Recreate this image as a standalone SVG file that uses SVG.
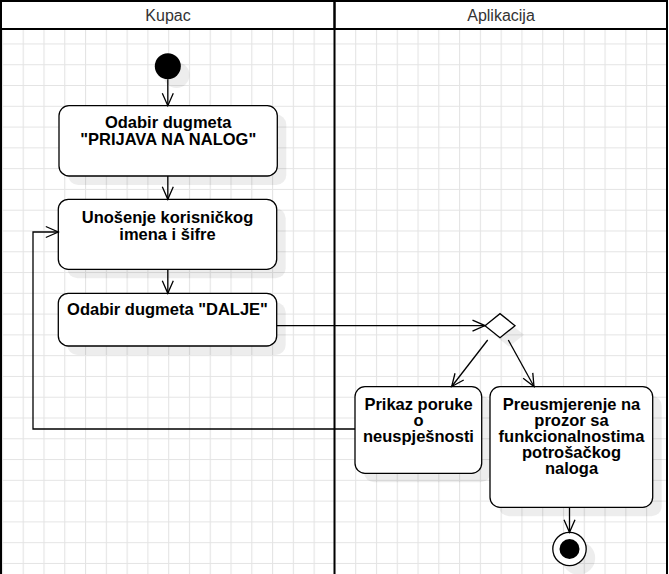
<svg xmlns="http://www.w3.org/2000/svg" width="669" height="574" viewBox="0 0 669 574">
  <defs>
    <pattern id="grid" patternUnits="userSpaceOnUse" x="1.9" y="1.9" width="20.78" height="20.78">
      <path d="M0,0.5 H20.78 M0.5,0 V20.78" fill="none" stroke="#e4e4e4" stroke-width="1.2"/>
    </pattern>
    <marker id="arrow" markerUnits="userSpaceOnUse" viewBox="0 0 13 12" refX="12.5" refY="6" markerWidth="13" markerHeight="12" orient="auto" overflow="visible">
      <path d="M0,0.5 L12.5,6 L0,11.5" fill="none" stroke="#000" stroke-width="1.3"/>
    </marker>
    <style>
      .lane { fill: none; stroke: #000; stroke-width: 2; }
      .node { fill: #fff; stroke: #000; stroke-width: 1.3; }
      .shadow { fill: #000; fill-opacity: 0.07; stroke: none; }
      .edge { fill: none; stroke: #000; stroke-width: 1.3; marker-end: url(#arrow); }
      .lbl { font-family: "Liberation Sans", Arial, sans-serif; font-size: 16.5px; font-weight: bold; fill: #000; text-anchor: middle; }
      .hdr { font-family: "Liberation Sans", Arial, sans-serif; font-size: 16px; fill: #333; text-anchor: middle; }
    </style>
  </defs>

  <rect x="0" y="0" width="669" height="574" fill="#fff"/>
  <rect x="1" y="29" width="666" height="545" fill="url(#grid)"/>

  <g id="lanes">
    <rect x="1" y="1" width="333.5" height="28" fill="#fff" class="lane"/>
    <rect x="334.5" y="1" width="332.5" height="28" fill="#fff" class="lane"/>
    <path class="lane" d="M1,29 V574 M334.5,29 V574 M667,29 V574"/>
    <text class="hdr" x="168" y="20.7">Kupac</text>
    <text class="hdr" x="501" y="20.7">Aplikacija</text>
  </g>

  <g id="start">
    <circle class="shadow" cx="176.5" cy="75" r="13"/>
    <circle cx="167.8" cy="66.3" r="13" fill="#000"/>
  </g>

  <g id="prijava">
    <rect class="shadow" x="68" y="114.5" width="218.3" height="70.5" rx="10"/>
    <rect class="node" x="59" y="105.7" width="218.3" height="70.3" rx="10"/>
    <text class="lbl" x="168.2" y="128.3">Odabir dugmeta<tspan x="168.2" dy="16.5">"PRIJAVA NA NALOG"</tspan></text>
  </g>

  <g id="unosenje">
    <rect class="shadow" x="67.3" y="208.3" width="218.4" height="70" rx="10"/>
    <rect class="node" x="58.3" y="199.3" width="218.4" height="70" rx="10"/>
    <text class="lbl" x="167.5" y="223.3">Unošenje korisničkog<tspan x="167.5" dy="16.2">imena i šifre</tspan></text>
  </g>

  <g id="dalje">
    <rect class="shadow" x="67.3" y="302.3" width="218.4" height="52.7" rx="10"/>
    <rect class="node" x="58.3" y="293.3" width="218.4" height="52.7" rx="10"/>
    <text class="lbl" x="167.5" y="315">Odabir dugmeta "DALJE"</text>
  </g>

  <g id="decision">
    <polygon class="shadow" points="494,334.7 509,322.7 524,334.7 509,346.7"/>
    <polygon class="node" points="485,325.7 500,313.7 515,325.7 500,337.7"/>
  </g>

  <g id="neuspjeh">
    <rect class="shadow" x="364" y="395.7" width="126.7" height="86.6" rx="10"/>
    <rect class="node" x="355" y="386.7" width="126.7" height="86.6" rx="10"/>
    <text class="lbl" x="418.5" y="410">Prikaz poruke<tspan x="418.5" dy="16">o</tspan><tspan x="418.5" dy="16">neuspješnosti</tspan></text>
  </g>

  <g id="preusmjerenje">
    <rect class="shadow" x="499" y="395.7" width="162.7" height="120.6" rx="10"/>
    <rect class="node" x="490" y="386.7" width="162.7" height="120.6" rx="10"/>
    <text class="lbl" x="571.5" y="409.5">Preusmjerenje na<tspan x="571.5" dy="16.2">prozor sa</tspan><tspan x="571.5" dy="16.2">funkcionalnostima</tspan><tspan x="571.5" dy="16.2">potrošačkog</tspan><tspan x="571.5" dy="16.2">naloga</tspan></text>
  </g>

  <g id="end">
    <circle class="shadow" cx="578.5" cy="558" r="16.7"/>
    <circle cx="569.5" cy="549" r="16.7" fill="#fff" stroke="#000" stroke-width="1.3"/>
    <circle cx="569.5" cy="549" r="10" fill="#000"/>
  </g>

  <g id="connectors">
    <path class="edge" d="M167.8,79.3 V105.7"/>
    <path class="edge" d="M167.8,176 V199.3"/>
    <path class="edge" d="M167.8,269.3 V293.3"/>
    <path class="edge" d="M276.7,325.6 H485"/>
    <path class="edge" d="M487.7,340 L451.7,386.5"/>
    <path class="edge" d="M508.3,340 L534,386.5"/>
    <path class="edge" d="M569.5,507.3 V532.3"/>
    <path class="edge" d="M355,429 H33 V232 H58.3"/>
  </g>
</svg>
